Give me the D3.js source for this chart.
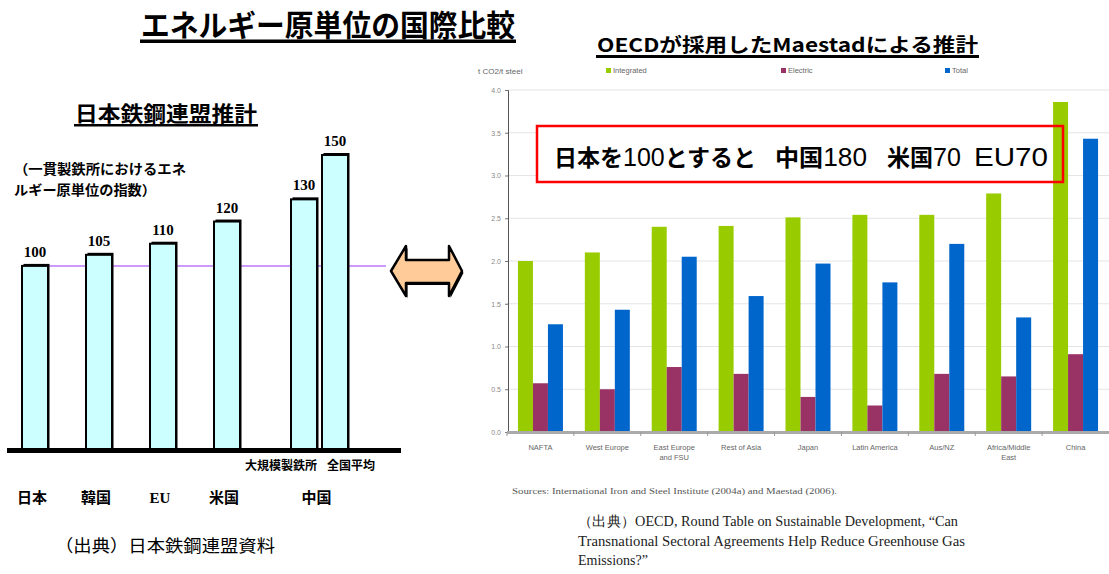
<!DOCTYPE html>
<html>
<head>
<meta charset="utf-8">
<script src="https://cdn.jsdelivr.net/npm/d3@7"></script>
<style>
  html, body { margin: 0; padding: 0; background: #fff; }
  svg { display: block; }
  .jp { font-family: "Noto Sans CJK JP", "Noto Sans", sans-serif; }
  .serif { font-family: "Liberation Serif", "DejaVu Serif", serif; }
  .sans { font-family: "Liberation Sans", Arial, sans-serif; }
</style>
</head>
<body>
<svg id="chart" width="1109" height="574"></svg>
<script>
// ---- Left panel: steel federation index (Japan = 100) ----
const jpCountries = ["日本", "韓国", "EU", "米国", "中国"];
const jpBars = [
  { country: "日本", sub: null, value: 100 },
  { country: "韓国", sub: null, value: 105 },
  { country: "EU", sub: null, value: 110 },
  { country: "米国", sub: null, value: 120 },
  { country: "中国", sub: "大規模製鉄所", value: 130 },
  { country: "中国", sub: "全国平均", value: 150 }
];
const jpReference = 100;

// ---- Right panel: Maestad estimates, t CO2 per t steel ----
const regions = ["NAFTA", "West Europe", "East Europe\nand FSU", "Rest of Asia", "Japan",
                 "Latin America", "Aus/NZ", "Africa/Middle\nEast", "China"];
const seriesNames = ["Integrated", "Electric", "Total"];
const integrated = [2.00, 2.10, 2.40, 2.41, 2.51, 2.54, 2.54, 2.79, 3.86];
const electric   = [0.57, 0.50, 0.76, 0.68, 0.41, 0.31, 0.68, 0.65, 0.91];
const total      = [1.26, 1.43, 2.05, 1.59, 1.97, 1.75, 2.20, 1.34, 3.43];
const yTicks = [0, 0.5, 1.0, 1.5, 2.0, 2.5, 3.0, 3.5, 4.0];
const seriesColors = ["#99cc00", "#993366", "#0066cc"];

const svg = d3.select("#chart");

// ---------- Headline ----------
svg.append("text").attr("class", "jp")
  .attr("x", 141).attr("y", 36)
  .attr("font-size", 30).attr("font-weight", 700)
  .attr("textLength", 374).attr("lengthAdjust", "spacingAndGlyphs")
  .text("エネルギー原単位の国際比較");
svg.append("rect").attr("x", 140).attr("y", 39.5).attr("width", 376).attr("height", 3.5).attr("fill", "#000");

// ---------- Left panel ----------
svg.append("text").attr("class", "jp")
  .attr("x", 75).attr("y", 121)
  .attr("font-size", 21).attr("font-weight", 700)
  .attr("textLength", 182).attr("lengthAdjust", "spacingAndGlyphs")
  .text("日本鉄鋼連盟推計");
svg.append("rect").attr("x", 74).attr("y", 124).attr("width", 184).attr("height", 2.5).attr("fill", "#000");

svg.append("text").attr("class", "jp")
  .attr("x", 14).attr("y", 174).attr("font-size", 13.5).attr("font-weight", 700)
  .attr("textLength", 172).attr("lengthAdjust", "spacingAndGlyphs")
  .text("（一貫製鉄所におけるエネ");
svg.append("text").attr("class", "jp")
  .attr("x", 14).attr("y", 195).attr("font-size", 13.5).attr("font-weight", 700)
  .attr("textLength", 142).attr("lengthAdjust", "spacingAndGlyphs")
  .text("ルギー原単位の指数）");

const leftBase = 450;
const xL = d3.scaleBand().domain(jpCountries).range([3, 323]);
const yL = d3.scaleLinear().domain([17, 150]).range([leftBase, 155]);
const barW = 26, subStep = 31;

function barX(d) {
  const group = jpBars.filter(b => b.country === d.country);
  const i = group.indexOf(d);
  const start = xL(d.country) + (xL.bandwidth() - barW) / 2 + (group.length > 1 ? barW / 2 : 0);
  return start + i * subStep;
}
function groupCenter(c) {
  const group = jpBars.filter(b => b.country === c);
  const first = barX(group[0]);
  const last = barX(group[group.length - 1]);
  return (first + last + barW) / 2;
}

// reference line at the Japan level
svg.append("line")
  .attr("x1", barX(jpBars[0]) + barW).attr("x2", 386)
  .attr("y1", yL(jpReference)).attr("y2", yL(jpReference))
  .attr("stroke", "#cc99ff").attr("stroke-width", 2);

const lb = svg.append("g");
// shadow that thickens the top and right edges
lb.selectAll("rect.shadow").data(jpBars).join("rect")
  .attr("class", "shadow")
  .attr("x", d => barX(d) + 1.5).attr("y", d => yL(d.value) - 2)
  .attr("width", barW).attr("height", d => leftBase - yL(d.value) + 2)
  .attr("fill", "#000");
lb.selectAll("rect.bar").data(jpBars).join("rect")
  .attr("class", "bar")
  .attr("x", d => barX(d)).attr("y", d => yL(d.value))
  .attr("width", barW).attr("height", d => leftBase - yL(d.value))
  .attr("fill", "#ccffff").attr("stroke", "#000").attr("stroke-width", 2);

lb.selectAll("text.val").data(jpBars).join("text")
  .attr("class", "val serif")
  .attr("x", d => barX(d) + barW / 2).attr("y", d => yL(d.value) - 9)
  .attr("text-anchor", "middle").attr("font-size", 15).attr("font-weight", 700)
  .text(d => d.value);

// baseline
svg.append("rect").attr("x", 7).attr("y", leftBase - 2).attr("width", 394).attr("height", 5).attr("fill", "#000");

// sub-labels for China
lb.selectAll("text.sub").data(jpBars.filter(d => d.sub)).join("text")
  .attr("class", "sub jp")
  .attr("x", (d, i) => i === 0 ? barX(d) + barW : barX(d) + 5)
  .attr("y", 470)
  .attr("text-anchor", (d, i) => i === 0 ? "end" : "start")
  .attr("font-size", 12).attr("font-weight", 700)
  .text(d => d.sub);

// country labels
svg.selectAll("text.country").data(jpCountries).join("text")
  .attr("class", d => d === "EU" ? "country serif" : "country jp")
  .attr("x", d => groupCenter(d) - 3).attr("y", 503)
  .attr("text-anchor", "middle").attr("font-size", 15).attr("font-weight", 700)
  .text(d => d);

svg.append("text").attr("class", "jp")
  .attr("x", 55).attr("y", 552).attr("font-size", 17)
  .attr("textLength", 220).attr("lengthAdjust", "spacingAndGlyphs")
  .text("（出典）日本鉄鋼連盟資料");

// ---------- Double-headed arrow ----------
const arrowPath = "M391,271 L406,246 L406,260 L449,260 L449,246 L462,271 L449,296 L449,283 L406,283 L406,296 Z";
svg.append("path").attr("d", arrowPath).attr("transform", "translate(1.5,2)").attr("fill", "#000");
svg.append("path").attr("d", arrowPath)
  .attr("fill", "#ffcc99").attr("stroke", "#000").attr("stroke-width", 2.5).attr("stroke-linejoin", "round");

// ---------- Right panel ----------
svg.append("text").attr("class", "jp")
  .attr("x", 597).attr("y", 52)
  .attr("font-size", 19).attr("font-weight", 700)
  .attr("textLength", 381).attr("lengthAdjust", "spacingAndGlyphs")
  .text("OECDが採用したMaestadによる推計");
svg.append("rect").attr("x", 596).attr("y", 55).attr("width", 383).attr("height", 3).attr("fill", "#000");

const plotL = 507, plotR = 1109, plotT = 90, plotB = 432;
const xR = d3.scaleBand().domain(regions).range([plotL, plotR]);
const groupW = 45;
const xS = d3.scaleBand().domain(seriesNames).range([0, groupW]);
const yR = d3.scaleLinear().domain([0, 4]).range([plotB, plotT]);

// legend
svg.append("text").attr("class", "sans")
  .attr("x", 478).attr("y", 73.5).attr("font-size", 8).attr("fill", "#666")
  .text("t CO2/t steel");
const legendX = [606, 781, 945];
const lg = svg.append("g").selectAll("g").data(seriesNames).join("g")
  .attr("transform", (d, i) => `translate(${legendX[i]},70.5)`);
lg.append("rect").attr("x", 0).attr("y", -2.5).attr("width", 5).attr("height", 5)
  .attr("fill", (d, i) => seriesColors[i]);
lg.append("text").attr("class", "sans").attr("x", 7).attr("y", 2.5)
  .attr("font-size", 7.5).attr("fill", "#666").text(d => d);

// grid
svg.append("g").selectAll("line").data(yTicks.filter(t => t > 0)).join("line")
  .attr("x1", plotL).attr("x2", plotR)
  .attr("y1", d => yR(d)).attr("y2", d => yR(d))
  .attr("stroke", "#e4e4e4").attr("stroke-width", 1);

// y axis
const yAxis = svg.append("g").attr("transform", `translate(${plotL + 1},0)`)
  .call(d3.axisLeft(yR).tickValues(yTicks).tickFormat(d3.format(".1f")).tickSize(3).tickPadding(4));
yAxis.select(".domain").attr("stroke", "#555");
yAxis.selectAll(".tick line").attr("stroke", "#777");
yAxis.selectAll("text").attr("font-size", 7).attr("fill", "#888").attr("font-family", "Liberation Sans, Arial, sans-serif");

// highlighted comparison box (white panel behind the bars)
const box = { x: 537, y: 126, w: 526, h: 56 };
svg.append("rect").attr("x", box.x).attr("y", box.y).attr("width", box.w).attr("height", box.h)
  .attr("fill", "#fff");

// bars
const seriesData = [integrated, electric, total];
const groups = svg.append("g").selectAll("g").data(regions).join("g")
  .attr("transform", d => `translate(${xR(d) + (xR.bandwidth() - groupW) / 2},0)`);
groups.selectAll("rect").data((r, ri) => seriesNames.map((s, si) => ({ s, si, v: seriesData[si][ri] })))
  .join("rect")
  .attr("x", d => xS(d.s)).attr("width", xS.bandwidth())
  .attr("y", d => yR(d.v)).attr("height", d => plotB - yR(d.v))
  .attr("fill", d => seriesColors[d.si]);

// red frame drawn over the bars
svg.append("rect").attr("x", box.x).attr("y", box.y).attr("width", box.w).attr("height", box.h)
  .attr("fill", "none").attr("stroke", "#ff0000").attr("stroke-width", 2.5);
const boxText = [
  { parts: [["日本を", 700], ["100", 400], ["とすると", 700]], x: 554, w: 202 },
  { parts: [["中国", 700], ["180", 400]], x: 775, w: 92 },
  { parts: [["米国", 700], ["70", 400]], x: 887, w: 74 },
  { parts: [["EU70", 400]], x: 974, w: 74 }
];
const bt = svg.append("g").selectAll("text").data(boxText).join("text")
  .attr("class", "jp")
  .attr("x", d => d.x).attr("y", 166)
  .attr("font-size", 23)
  .attr("textLength", d => d.w).attr("lengthAdjust", "spacingAndGlyphs");
bt.selectAll("tspan").data(d => d.parts).join("tspan")
  .attr("font-weight", d => d[1])
  .attr("font-family", d => d[1] === 400 ? "Liberation Sans, Arial, sans-serif" : null)
  .attr("font-size", d => d[1] === 400 ? 25 : null)
  .text(d => d[0]);

// category axis
svg.append("rect").attr("x", plotL).attr("y", plotB - 1).attr("width", plotR - plotL).attr("height", 3).attr("fill", "#aaa");
svg.append("g").selectAll("line").data(regions).join("line")
  .attr("x1", d => xR(d)).attr("x2", d => xR(d))
  .attr("y1", plotB).attr("y2", plotB + 4)
  .attr("stroke", "#999").attr("stroke-width", 1);

const catLabels = svg.append("g").selectAll("text").data(regions).join("text")
  .attr("class", "sans")
  .attr("x", d => xR(d) + xR.bandwidth() / 2)
  .attr("y", 450)
  .attr("text-anchor", "middle").attr("font-size", 7.5).attr("fill", "#666");
catLabels.selectAll("tspan").data(d => d.split("\n")).join("tspan")
  .attr("x", function () { return this.parentNode.getAttribute("x"); })
  .attr("dy", (d, i) => i === 0 ? 0 : 10)
  .text(d => d);

svg.append("text").attr("class", "serif")
  .attr("x", 512).attr("y", 494).attr("font-size", 7.5).attr("fill", "#555")
  .attr("textLength", 325).attr("lengthAdjust", "spacingAndGlyphs")
  .text("Sources: International Iron and Steel Institute (2004a) and Maestad (2006).");

// citation
const cite = [
  "（出典）OECD, Round Table on Sustainable Development, \u201CCan",
  "Transnational Sectoral Agreements Help Reduce Greenhouse Gas",
  "Emissions?\u201D"
];
const citeW = [380, 387, 70];
svg.append("g").selectAll("text").data(cite).join("text")
  .attr("class", "serif")
  .attr("x", 578).attr("y", (d, i) => 526 + i * 19.5)
  .attr("font-size", 14).attr("fill", "#222")
  .attr("textLength", (d, i) => citeW[i]).attr("lengthAdjust", "spacingAndGlyphs")
  .text(d => d);
</script>
</body>
</html>
